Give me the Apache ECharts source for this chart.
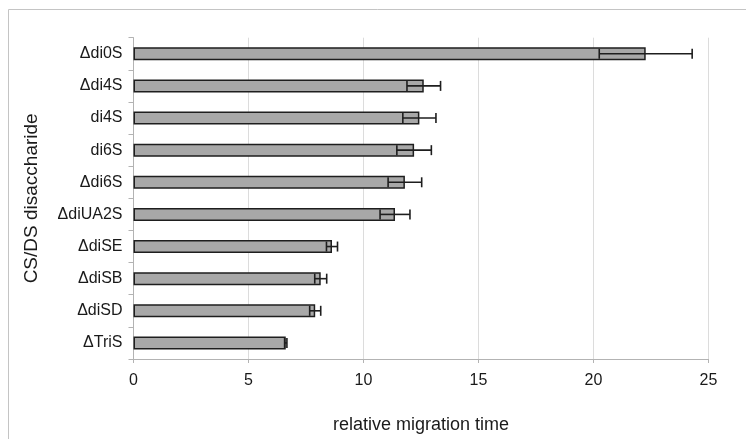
<!DOCTYPE html>
<html>
<head>
<meta charset="utf-8">
<script src="https://cdn.jsdelivr.net/npm/echarts@6/dist/echarts.min.js"></script>
<style>html,body{margin:0;padding:0;background:#fff;}#c{width:746px;height:439px;}</style>
</head>
<body>
<div id="c"></div>
<script>
const categories = ['Δdi0S','Δdi4S','di4S','di6S','Δdi6S','ΔdiUA2S','ΔdiSE','ΔdiSB','ΔdiSD','ΔTriS'];
const values = [22.27, 12.62, 12.43, 12.2, 11.8, 11.37, 8.63, 8.14, 7.9, 6.62];
const errors = [2.02, 0.73, 0.72, 0.75, 0.73, 0.65, 0.24, 0.26, 0.24, 0.05];
const xTicks = [0, 5, 10, 15, 20, 25];

const chart = echarts.init(document.getElementById('c'), null, {renderer: 'canvas'});
const errData = values.map((v, i) => [i, v - errors[i], v + errors[i]]);
const font = 'Liberation Sans, Arial, sans-serif';
chart.setOption({
  animation: false,
  backgroundColor: '#fff',
  graphic: [{
    type: 'rect', silent: true, z: -10,
    shape: {x: 8.5, y: 9.5, width: 800, height: 500},
    style: {fill: 'none', stroke: '#c4c4c4', lineWidth: 1}
  }],
  grid: {left: 133.5, right: 37.5, top: 37.7, bottom: 77.3},
  xAxis: {
    type: 'value', min: xTicks[0], max: xTicks[xTicks.length - 1], interval: 5,
    name: 'relative migration time', nameLocation: 'middle', nameGap: 57,
    nameTextStyle: {fontFamily: font, fontSize: 18, color: '#1a1a1a'},
    axisLine: {show: true, lineStyle: {color: '#b3b3b3', width: 1}},
    axisTick: {show: true, length: 4, lineStyle: {color: '#b3b3b3'}},
    axisLabel: {fontFamily: font, fontSize: 16, color: '#1a1a1a', margin: 14},
    splitLine: {show: true, lineStyle: {color: '#dcdcdc', width: 1}}
  },
  yAxis: {
    type: 'category', data: categories, inverse: true,
    name: 'CS/DS disaccharide', nameLocation: 'middle', nameGap: 92, nameRotate: 90,
    nameTextStyle: {fontFamily: font, fontSize: 19, color: '#1a1a1a'},
    axisLine: {show: true, lineStyle: {color: '#b3b3b3', width: 1}},
    axisTick: {show: true, length: 5, lineStyle: {color: '#b3b3b3'}},
    axisLabel: {fontFamily: font, fontSize: 16, color: '#1a1a1a', margin: 11},
    splitLine: {show: false}
  },
  series: [{
    type: 'bar', data: values, barWidth: 13,
    itemStyle: {color: '#a8a8a8', borderColor: '#1e1e1e', borderWidth: 1.5},
    z: 2
  }, {
    type: 'custom', data: errData, z: 5,
    encode: {x: [1, 2], y: 0},
    renderItem: function (params, api) {
      const c = api.value(0);
      const lo = api.coord([api.value(1), c]);
      const hi = api.coord([api.value(2), c]);
      const y = lo[1];
      const h = 5;
      const st = {stroke: '#1e1e1e', lineWidth: 1.6};
      return {type: 'group', children: [
        {type: 'line', shape: {x1: lo[0], y1: y, x2: hi[0], y2: y}, style: st},
        {type: 'line', shape: {x1: lo[0], y1: y - h, x2: lo[0], y2: y + h}, style: st},
        {type: 'line', shape: {x1: hi[0], y1: y - h, x2: hi[0], y2: y + h}, style: st}
      ]};
    }
  }]
});
</script>
</body>
</html>
